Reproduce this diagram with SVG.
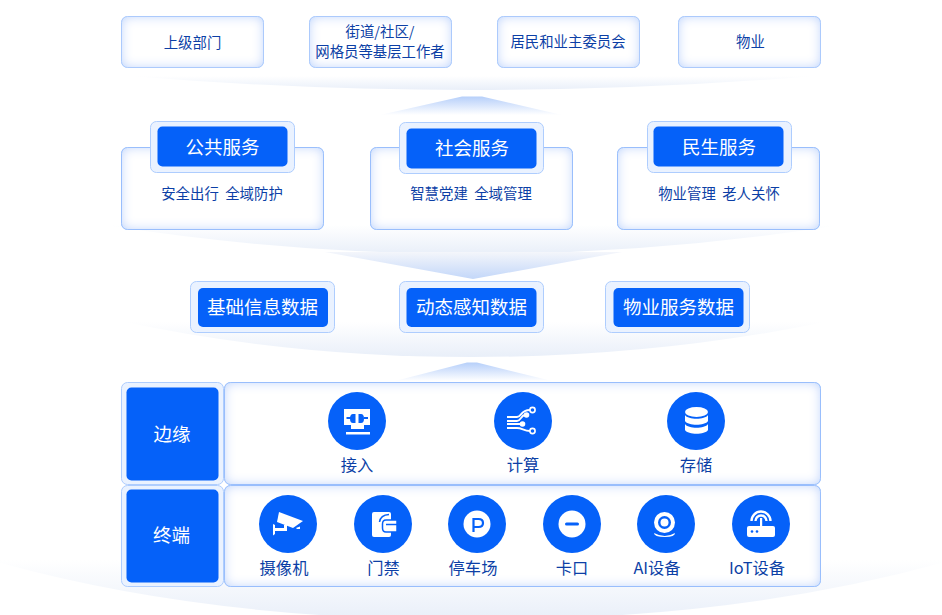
<svg xmlns="http://www.w3.org/2000/svg" width="942" height="615" viewBox="0 0 942 615">
<style>
text{font-family:"Noto Sans CJK SC","Noto Sans",sans-serif;text-anchor:middle;white-space:pre}
.card{fill:#fff;stroke:#80b0fd;stroke-width:1;filter:url(#glow)}
.soft{stroke:#a8c8fd}
.halo{fill:#eaf2ff;stroke:#aecdfe;stroke-width:1}
.blue{fill:#0561f9}
.t{fill:#0c3fa6;font-size:14.400px}
.l{fill:#0c3fa6;font-size:16.300px}
.h{fill:#fff;font-size:18.500px}
.w{fill:#fff}
.ln{fill:none;stroke:#fff;stroke-width:1.800}
</style>
<defs>
<filter id="glow" x="-20%" y="-40%" width="140%" height="180%">
<feFlood flood-color="#b0cdfc" flood-opacity="1"/>
<feComposite in2="SourceAlpha" operator="out"/>
<feGaussianBlur stdDeviation="6"/>
<feComposite in2="SourceAlpha" operator="in" result="g"/>
<feMerge><feMergeNode in="SourceGraphic"/><feMergeNode in="g"/></feMerge>
</filter>
<linearGradient id="bowl" x1="0" y1="0" x2="0" y2="1"><stop offset="0" stop-color="#fff"/><stop offset="1" stop-color="#e9eff9"/></linearGradient>
<linearGradient id="up" x1="0" y1="0" x2="0" y2="1"><stop offset="0" stop-color="#b6cffa"/><stop offset="1" stop-color="#fff"/></linearGradient>
<linearGradient id="down" x1="0" y1="0" x2="0" y2="1"><stop offset="0" stop-color="#f4f6fb"/><stop offset="1" stop-color="#c3d7f9"/></linearGradient>
</defs>

<g id="connectors">
<path d="M130 76Q300 90 472 90T815 76Z" fill="url(#bowl)"/>
<path d="M380 115L462 96.500H482L562 115Z" fill="url(#up)"/>
<path d="M105 225Q290 254 472 254T840 225Z" fill="url(#bowl)"/>
<path d="M325 252H622L473 279Z" fill="url(#down)"/>
<path d="M125 322Q290 357 472 357T825 322Z" fill="url(#bowl)"/>
<path d="M395 381L467 362.500H477L552 381Z" fill="url(#up)"/>
<path d="M-10 560Q200 620 471 620T952 560Z" fill="url(#bowl)"/>
</g>

<g id="top-1"><rect class="card soft" x="121.500" y="16.500" width="142" height="51" rx="6"/><text class="t" x="192.500" y="48">上级部门</text></g>
<g id="top-2"><rect class="card soft" x="309.500" y="16.500" width="142" height="51" rx="6"/><text class="t" x="380" y="37">街道/社区/</text><text class="t" x="380" y="56.500">网格员等基层工作者</text></g>
<g id="top-3"><rect class="card soft" x="497.500" y="16.500" width="142" height="51" rx="6"/><text class="t" x="568" y="47">居民和业主委员会</text></g>
<g id="top-4"><rect class="card soft" x="678.500" y="16.500" width="142" height="51" rx="6"/><text class="t" x="750.500" y="47">物业</text></g>

<g id="svc-public"><rect class="card" x="121.500" y="147.500" width="202" height="82" rx="6"/><rect class="halo" x="150.500" y="121.500" width="144" height="51" rx="6"/><rect class="blue" x="157.500" y="126.500" width="130" height="40" rx="5"/><text class="h" x="222.500" y="154">公共服务</text><text class="t" x="222" y="199">安全出行  全域防护</text></g>
<g id="svc-social"><rect class="card" x="370.500" y="147.500" width="202" height="82" rx="6"/><rect class="halo" x="399.500" y="122.500" width="144" height="51" rx="6"/><rect class="blue" x="406.500" y="128.500" width="130" height="40" rx="5"/><text class="h" x="472" y="155">社会服务</text><text class="t" x="471" y="199">智慧党建  全域管理</text></g>
<g id="svc-life"><rect class="card" x="617.500" y="147.500" width="202" height="82" rx="6"/><rect class="halo" x="647.500" y="121.500" width="144" height="51" rx="6"/><rect class="blue" x="653.500" y="126.500" width="130" height="40" rx="5"/><text class="h" x="719" y="154">民生服务</text><text class="t" x="719" y="199">物业管理  老人关怀</text></g>

<g id="data-1"><rect class="halo" x="190.500" y="281.500" width="144" height="51" rx="6"/><rect class="blue" x="198" y="288" width="130" height="39" rx="5"/><text class="h" x="262.500" y="314">基础信息数据</text></g>
<g id="data-2"><rect class="halo" x="399.500" y="281.500" width="144" height="51" rx="6"/><rect class="blue" x="406.500" y="288" width="130" height="39" rx="5"/><text class="h" x="471.500" y="314">动态感知数据</text></g>
<g id="data-3"><rect class="halo" x="605.500" y="281.500" width="144" height="51" rx="6"/><rect class="blue" x="613.500" y="288" width="130" height="39" rx="5"/><text class="h" x="678.500" y="314">物业服务数据</text></g>

<g id="edge-label"><rect class="halo" x="121.500" y="382.500" width="102" height="102" rx="6"/><rect class="blue" x="126.500" y="387.500" width="92" height="93" rx="5"/><text class="h" x="172" y="441">边缘</text></g>
<g id="term-label"><rect class="halo" x="121.500" y="485.500" width="102" height="101" rx="6"/><rect class="blue" x="126.500" y="489.500" width="92" height="93" rx="5"/><text class="h" x="171.500" y="542">终端</text></g>

<g id="edge-panel"><rect class="card" x="224.500" y="382.500" width="596" height="102" rx="6"/></g>
<g id="term-panel"><rect class="card" x="224.500" y="485.500" width="596" height="101" rx="6"/></g>

<g id="n-access"><circle class="blue" cx="357" cy="421" r="29"/>
<path class="w" d="M344 409H370V425H364V429H351V425H344Z"/><rect class="w" x="346" y="432" width="24" height="2.500"/>
<path d="M346.500 418H351M364 418H368" stroke="#0561f9" stroke-width="1.800" fill="none"/>
<path d="M355.500 414H353Q350 414 350 418.500Q350 423 353 423H355.500ZM358.500 414H361Q364 414 364 418.500Q364 423 361 423H358.500Z" fill="#0561f9"/>
<text class="l" x="357" y="471">接入</text></g>
<g id="n-compute"><circle class="blue" cx="523" cy="421" r="29"/>
<path class="ln" d="M507 417H517C522 417 520 410 530 410M507 421H517C521 421 521 415 525 415M507 424H521M507 428H517C522 428 524 431 530 431"/>
<circle cx="532.500" cy="410" r="2.600" fill="none" stroke="#fff" stroke-width="1.600"/><circle cx="526.500" cy="415" r="2.800" fill="#fff"/><circle cx="522.500" cy="424" r="2.800" fill="#fff"/><circle cx="532.500" cy="431" r="2.600" fill="none" stroke="#fff" stroke-width="1.600"/>
<text class="l" x="523" y="471">计算</text></g>
<g id="n-storage"><circle class="blue" cx="696" cy="421" r="29"/>
<ellipse class="w" cx="696.500" cy="412" rx="11.500" ry="5"/>
<path class="w" d="M685 415C688 420 705 420 708 415V421C705 426 688 426 685 421Z"/>
<path class="w" d="M685 424C688 429 705 429 708 424V430C705 435 688 435 685 430Z"/>
<text class="l" x="696" y="471">存储</text></g>

<g id="n-camera"><circle class="blue" cx="288" cy="524" r="29"/>
<path class="w" d="M279 512L303 521L293 528L277 522Z"/>
<path class="w" d="M273 524L275 525V528H284V525H287V531H275V534L273 535.500Z"/>
<path class="w" d="M296 528L300 526.500V529H297Z"/>
<text class="l" x="284" y="574">摄像机</text></g>
<g id="n-door"><circle class="blue" cx="383" cy="524" r="29"/>
<rect class="w" x="372" y="512" width="19" height="25" rx="2"/>
<path d="M379.500 522Q380.500 515 389 514.500" fill="none" stroke="#0561f9" stroke-width="1.500"/>
<path class="w" d="M386 520H397V532H386Q382.500 532 382.500 528V524Q382.500 520 386 520Z" stroke="#0561f9" stroke-width="1.500"/>
<path d="M386 524.500H397.500" stroke="#0561f9" stroke-width="1.500"/>
<text class="l" x="383.500" y="574">门禁</text></g>
<g id="n-parking"><circle class="blue" cx="477" cy="524" r="29"/><circle class="w" cx="477" cy="524" r="13.500"/>
<path d="M473.500 532V519H478.500Q483 519 483 523Q483 527 478.500 527H473.500" fill="none" stroke="#0561f9" stroke-width="2.200"/>
<text class="l" x="473" y="574">停车场</text></g>
<g id="n-gate"><circle class="blue" cx="572" cy="524" r="29"/><circle class="w" cx="572" cy="524" r="13.500"/><rect x="565" y="522.500" width="14" height="3" rx="1.500" fill="#0561f9"/>
<text class="l" x="572" y="574">卡口</text></g>
<g id="n-ai"><circle class="blue" cx="666" cy="524" r="29"/><circle class="w" cx="664.500" cy="522.500" r="10.500"/><circle cx="664.500" cy="522.500" r="6.500" fill="#0561f9"/><circle class="w" cx="664.500" cy="522.500" r="4"/>
<path class="w" d="M654 533Q665 539 675 533Q675 537 665 537Q654 537 654 533Z"/>
<text class="l" x="657" y="574">AI设备</text></g>
<g id="n-iot"><circle class="blue" cx="761" cy="524" r="29"/>
<rect class="w" x="747" y="526" width="28" height="11" rx="2"/><rect class="w" x="760" y="518" width="2.200" height="8"/>
<circle cx="752" cy="531.500" r="1.300" fill="#0561f9"/><circle cx="757" cy="531.500" r="1.300" fill="#0561f9"/>
<path d="M755.500 521A5.500 5.500 0 0 1 766.500 521M751.500 521A9.500 9.500 0 0 1 770.500 521" fill="none" stroke="#fff" stroke-width="2.400"/>
<text class="l" x="757" y="574">IoT设备</text></g>
</svg>
